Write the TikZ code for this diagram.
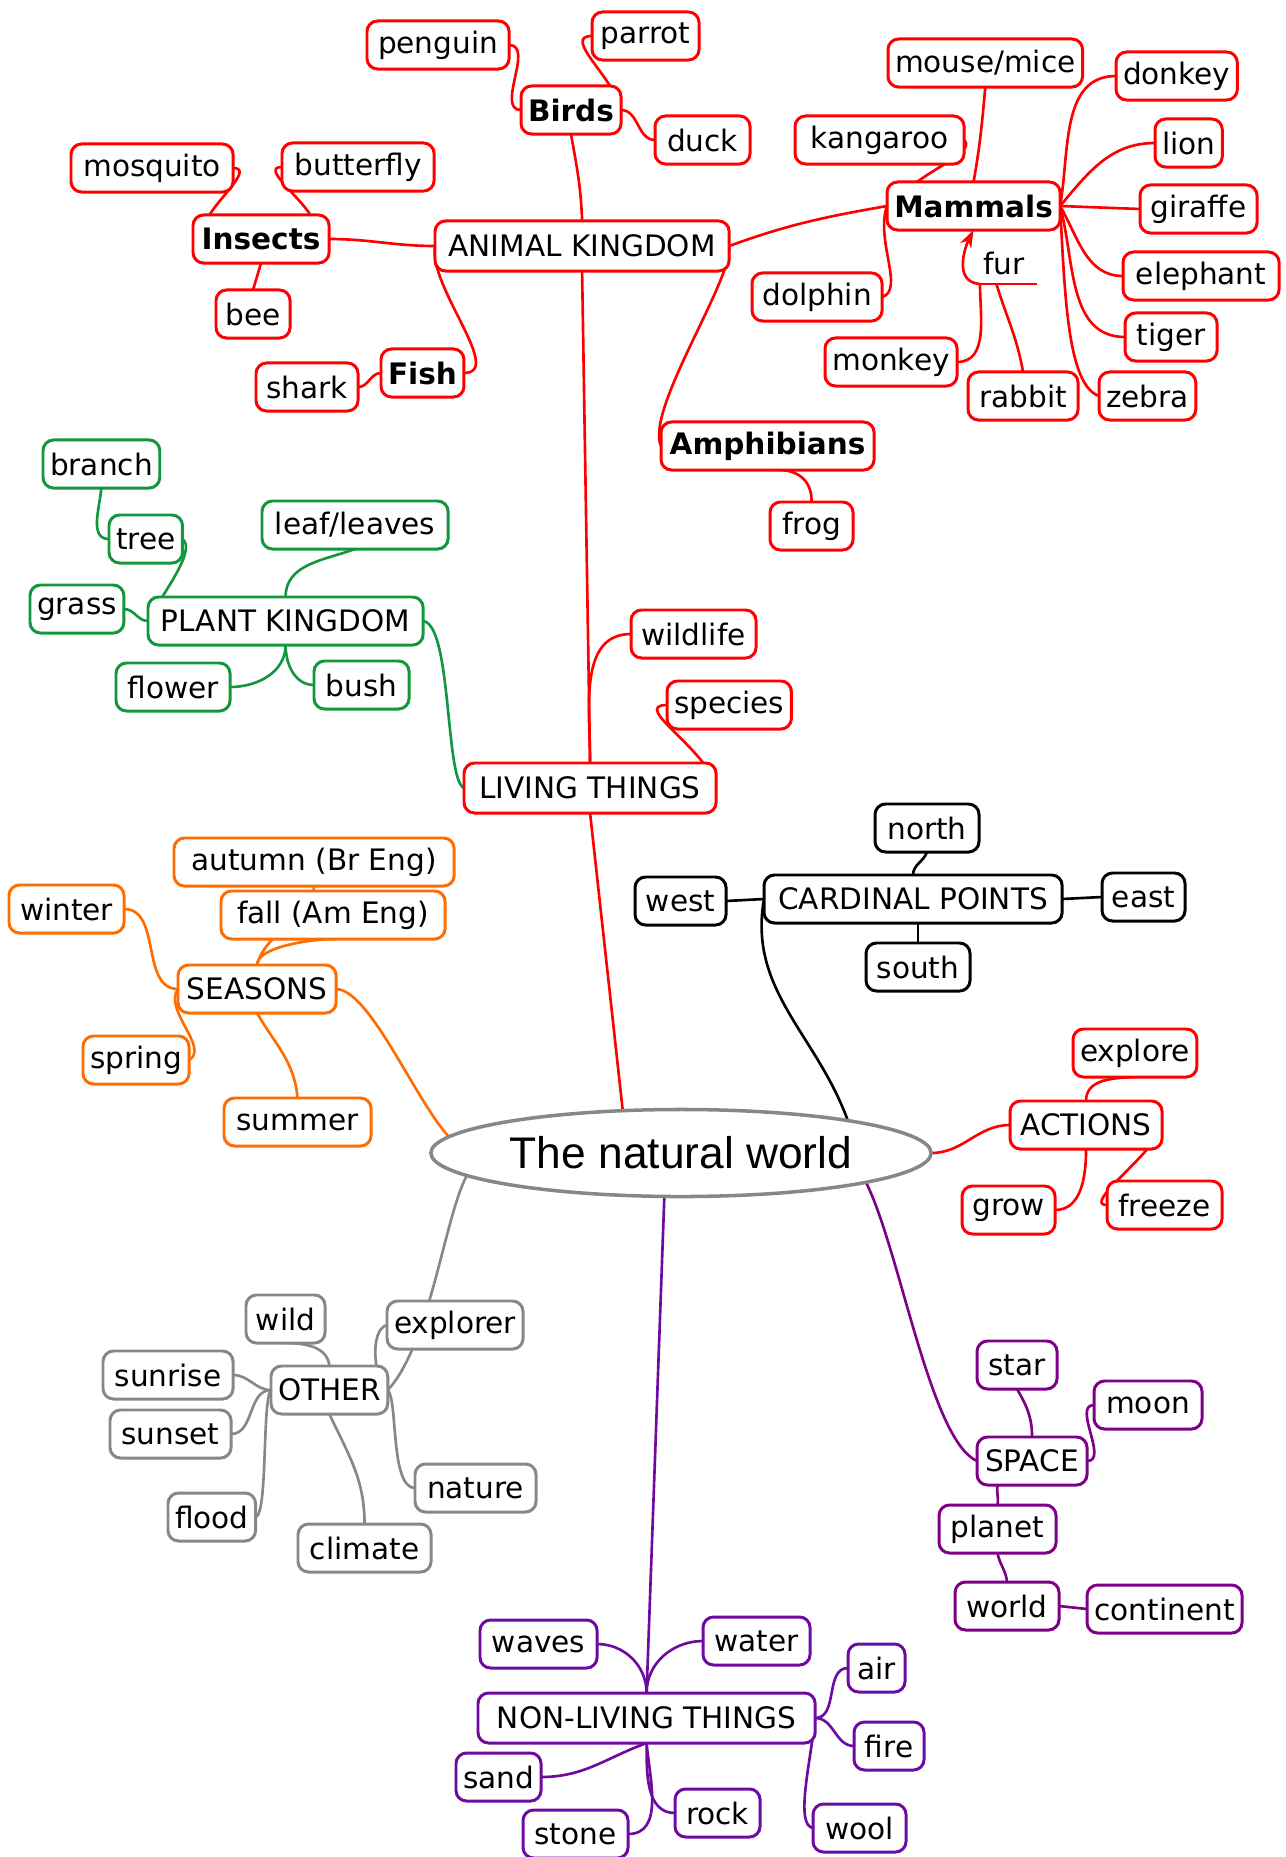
\documentclass[tikz,border=0pt]{standalone}
\usepackage{fontspec}
\setmainfont{DejaVu Sans}
\newfontfamily\rootfont{Liberation Sans}
\usetikzlibrary{arrows.meta,backgrounds,shapes.geometric}

\definecolor{animalred}{RGB}{255,0,0}
\definecolor{plantgreen}{RGB}{18,150,62}
\definecolor{seasonorange}{RGB}{255,108,0}
\definecolor{othergray}{RGB}{135,135,135}
\definecolor{spacepurple}{RGB}{125,0,135}
\definecolor{thingpurple}{RGB}{110,10,160}

\begin{document}
\begin{tikzpicture}[x=0.01cm, y=0.01cm, font=\fontsize{8.4}{10}\selectfont,
    leaf/.style={draw, fill=white, rounded corners=3pt, line width=0.85pt, anchor=west,
      minimum height=0.48cm, inner xsep=2pt, inner ysep=1pt, outer sep=0pt},
    heavy/.style={font=\fontsize{8.4}{10}\selectfont\bfseries},
    animal/.style={leaf, draw=animalred},
    plant/.style={leaf, draw=plantgreen},
    season/.style={leaf, draw=seasonorange},
    compass/.style={leaf, draw=black},
    action/.style={leaf, draw=animalred},
    misc/.style={leaf, draw=othergray},
    cosmos/.style={leaf, draw=spacepurple},
    thing/.style={leaf, draw=thingpurple},
    link/.style={line width=0.75pt},
    >={Stealth[length=5pt,width=3.5pt]}]

  \useasboundingbox (0,0) rectangle (1286,-1857);

  % centre
  \node[ellipse, draw=othergray, line width=1pt, fill=white, minimum width=5cm, minimum height=0.87cm,
    inner sep=0pt, outer sep=0pt, font=\rootfont\fontsize{12.6}{15}\selectfont] (natural) at (681,-1153) {The natural world};

  % animal kingdom
  \node[animal, minimum width=2.94cm, minimum height=0.5cm] (animals) at (435,-246) {ANIMAL KINGDOM};
  \node[animal, heavy, minimum width=0.97cm] (birds) at (521,-110) {Birds};
  \node[animal, minimum width=1.42cm] (penguin) at (367,-45) {penguin};
  \node[animal, minimum width=1.07cm] (parrot) at (592,-36) {parrot};
  \node[animal, minimum width=0.95cm] (duck) at (655,-140) {duck};
  \node[animal, heavy, minimum width=1.36cm] (insects) at (193,-239) {Insects};
  \node[animal, minimum width=1.62cm] (mosquito) at (71,-168) {mosquito};
  \node[animal, minimum width=1.52cm] (butterfly) at (282,-167) {butterfly};
  \node[animal, minimum width=0.74cm] (bee) at (216,-314) {bee};
  \node[animal, heavy, minimum width=0.80cm] (fish) at (381,-373) {Fish};
  \node[animal, minimum width=1.02cm] (shark) at (256,-387) {shark};
  \node[animal, heavy, minimum width=1.73cm] (mammals) at (887,-206) {Mammals};
  \node[animal, minimum width=1.94cm] (mice) at (888,-63) {mouse/mice};
  \node[animal, minimum width=1.69cm] (kangaroo) at (795,-140) {kangaroo};
  \node[animal, minimum width=1.30cm] (dolphin) at (752,-297) {dolphin};
  \node[animal, minimum width=1.32cm] (monkey) at (825,-362) {monkey};
  \node[animal, minimum width=1.10cm] (rabbit) at (968,-396) {rabbit};
  \node[animal, minimum width=1.20cm] (donkey) at (1116,-76) {donkey};
  \node[animal, minimum width=0.63cm] (lion) at (1155,-143) {lion};
  \node[animal, minimum width=1.17cm] (giraffe) at (1140,-209) {giraffe};
  \node[animal, minimum width=1.56cm] (elephant) at (1123,-276) {elephant};
  \node[animal, minimum width=0.92cm] (tiger) at (1125,-337) {tiger};
  \node[animal, minimum width=0.96cm] (zebra) at (1099,-396) {zebra};
  \node[anchor=south west, text width=0.5cm, inner xsep=1pt, inner ysep=1pt, minimum height=0.42cm,
    outer sep=0pt] (fur) at (980,-284) {fur};
  \node[animal, heavy, minimum width=2.13cm] (amphibians) at (661,-446) {Amphibians};
  \node[animal, minimum width=0.83cm] (frog) at (770,-526) {frog};

  % living things
  \node[animal, minimum width=2.52cm, minimum height=0.5cm] (living) at (464,-788) {LIVING THINGS};
  \node[animal, minimum width=1.25cm] (wildlife) at (631,-634) {wildlife};
  \node[animal, minimum width=1.19cm] (species) at (667,-705) {species};

  % plant kingdom
  \node[plant, minimum width=2.75cm] (plants) at (148,-621) {PLANT KINGDOM};
  \node[plant, minimum width=1.13cm] (branch) at (43,-464) {branch};
  \node[plant, minimum width=0.72cm] (tree) at (109,-539) {tree};
  \node[plant, minimum width=1.86cm] (leaves) at (262,-525) {leaf/leaves};
  \node[plant, minimum width=0.92cm] (grass) at (30,-609) {grass};
  \node[plant, minimum width=1.14cm] (flower) at (116,-687) {flower};
  \node[plant, minimum width=0.95cm] (bush) at (314,-685) {bush};

  % cardinal points
  \node[compass, minimum width=2.98cm] (cardinal) at (764,-899) {CARDINAL POINTS};
  \node[compass, minimum width=1.04cm] (northpt) at (875,-828) {north};
  \node[compass, minimum width=0.91cm] (westpt) at (635,-901) {west};
  \node[compass, minimum width=0.83cm] (eastpt) at (1102,-897) {east};
  \node[compass, minimum width=1.04cm] (southpt) at (866,-967) {south};

  % seasons
  \node[season, minimum width=1.58cm] (seasons) at (178,-989) {SEASONS};
  \node[season, minimum width=2.80cm] (autumn) at (174,-862) {autumn (Br Eng)};
  \node[season, minimum width=2.24cm] (fall) at (221,-915) {fall (Am Eng)};
  \node[season, minimum width=1.15cm] (winter) at (9,-909) {winter};
  \node[season, minimum width=1.03cm] (spring) at (83,-1060) {spring};
  \node[season, minimum width=1.47cm] (summer) at (224,-1122) {summer};

  % actions
  \node[action, minimum width=1.52cm] (actions) at (1010,-1125) {ACTIONS};
  \node[action, minimum width=1.22cm] (explore) at (1073,-1053) {explore};
  \node[action, minimum width=0.93cm] (grow) at (962,-1210) {grow};
  \node[action, minimum width=1.15cm] (freeze) at (1107,-1205) {freeze};

  % other
  \node[misc, minimum width=1.15cm] (other) at (271,-1390) {OTHER};
  \node[misc, minimum width=0.79cm] (wild) at (246,-1319) {wild};
  \node[misc, minimum width=1.36cm] (explorer) at (387,-1325) {explorer};
  \node[misc, minimum width=1.30cm] (sunrise) at (103,-1375) {sunrise};
  \node[misc, minimum width=1.21cm] (sunset) at (110,-1434) {sunset};
  \node[misc, minimum width=1.21cm] (nature) at (415,-1488) {nature};
  \node[misc, minimum width=0.84cm] (flood) at (168,-1517) {flood};
  \node[misc, minimum width=1.33cm] (climate) at (298,-1548) {climate};

  % space
  \node[cosmos, minimum width=1.10cm] (space) at (977,-1461) {SPACE};
  \node[cosmos, minimum width=0.80cm] (star) at (977,-1365) {star};
  \node[cosmos, minimum width=1.08cm] (moon) at (1094,-1405) {moon};
  \node[cosmos, minimum width=1.17cm] (planet) at (939,-1529) {planet};
  \node[cosmos, minimum width=1.04cm] (world) at (955,-1606) {world};
  \node[cosmos, minimum width=1.55cm] (continent) at (1087,-1609) {continent};

  % non-living things
  \node[thing, minimum width=3.37cm, minimum height=0.5cm] (nonliving) at (478,-1718) {NON-LIVING THINGS};
  \node[thing, minimum width=1.17cm] (waves) at (480,-1644) {waves};
  \node[thing, minimum width=1.07cm] (water) at (703,-1641) {water};
  \node[thing, minimum width=0.57cm] (air) at (848,-1668) {air};
  \node[thing, minimum width=0.70cm] (fire) at (854,-1746) {fire};
  \node[thing, minimum width=0.82cm] (sand) at (456,-1777) {sand};
  \node[thing, minimum width=0.85cm] (rock) at (675,-1813) {rock};
  \node[thing, minimum width=1.05cm] (stone) at (523,-1834) {stone};
  \node[thing, minimum width=0.93cm] (wool) at (813,-1828) {wool};

  \draw[link, animalred] (fur.south west) -- (fur.south east);

  \begin{pgfonlayer}{background}
    \path[link, animalred]
      (birds.south) edge[out=-80, in=92] (animals.north)
      (penguin.east) edge[out=0, in=180] (birds.west)
      (birds.east) edge[out=100, in=180] (parrot.west)
      (birds.east) edge[out=0, in=180] (duck.west)
      (animals.west) edge[out=180, in=0] (insects.east)
      (mosquito.east) edge[out=0, in=60] (insects.155)
      (butterfly.west) edge[out=180, in=120] (insects.26)
      (insects.south) edge (bee.north)
      (animals.west) edge[out=-100, in=0, looseness=0.8] (fish.east)
      (shark.east) edge[out=0, in=180] (fish.west)
      (animals.east) edge[out=20, in=190] (mammals.west)
      (mice.south) edge[out=-95, in=80] (mammals.north)
      (mammals.east) edge[out=80, in=180] (donkey.west)
      (mammals.east) edge[out=50, in=180] (lion.west)
      (mammals.east) edge (giraffe.west)
      (mammals.east) edge[out=-60, in=180] (elephant.west)
      (mammals.east) edge[out=-75, in=180] (tiger.west)
      (monkey.east) edge[out=0, in=-90] (fur.south west)
      (rabbit.north) edge[out=100, in=-73] (fur.240)
      (living.north) edge (animals.south)
      (living.north) edge[out=90, in=180] (wildlife.west)
      (living.east) edge[out=100, in=180] (species.west)
      (living.south) edge (natural.144)
      (natural.east) edge[out=0, in=180] (actions.west)
      (actions.south) edge[out=-90, in=0] (grow.east)
      (actions.east) edge[out=-100, in=180, looseness=0.7] (freeze.west);
    \draw[link, animalred] (mammals.east) .. controls (1065,-300) and (1068,-385) .. (zebra.west);
    \draw[link, animalred] (animals.east) .. controls (733,-280) and (645,-410) .. (amphibians.west);
    \draw[link, animalred] (kangaroo.east) .. controls (975,-150) and (940,-165) .. (mammals.157);
    \draw[link, animalred] (mammals.west) .. controls (875,-240) and (905,-290) .. (dolphin.east);
    \draw[link, animalred, ->] (fur.south west) .. controls (952,-282) and (966,-245) .. (mammals.south);
    \draw[link, animalred] (amphibians.south) .. controls (800,-467) and (812,-482) .. (frog.north);
    \draw[link, animalred] (actions.north) .. controls (1086,-1080) and (1110,-1078) .. (explore.south);

    \path[link, plantgreen]
      (branch.south) edge[out=-95, in=180] (tree.west)
      (grass.east) edge[out=0, in=180] (plants.west)
      (leaves.south) edge[out=200, in=90] (plants.north)
      (flower.east) edge[out=0, in=-90] (plants.south)
      (bush.west) edge[out=180, in=-90] (plants.south);
    \draw[link, plantgreen] (tree.east) .. controls (198,-550) and (158,-600) .. (plants.west);
    \draw[link, plantgreen] (plants.east) .. controls (452,-625) and (445,-780) .. (living.west);

    \path[link, black]
      (northpt.south) edge[out=-110, in=90] (cardinal.north)
      (southpt.north |- cardinal.south) edge (southpt.north)
      (westpt.east) edge (cardinal.west)
      (cardinal.east) edge (eastpt.west)
      (cardinal.west) edge[out=-100, in=110] (natural.11);

    \path[link, seasonorange]
      (winter.east) edge[out=0, in=180] (seasons.west)
      (seasons.north) edge[out=75, in=-95] (autumn.south)
      (seasons.north) edge[out=90, in=180, looseness=0.6] (fall.south)
      (seasons.south) edge[out=-60, in=95] (summer.north);
    \draw[link, seasonorange] (seasons.west) .. controls (163,-1010) and (210,-1048) .. (spring.east);
    \draw[link, seasonorange] (seasons.east) .. controls (370,-990) and (415,-1100) .. (natural.176);

    \path[link, othergray]
      (other.north) edge[out=95, in=0] (wild.south)
      (sunrise.east) edge[out=0, in=180] (other.west)
      (sunset.east) edge[out=0, in=180] (other.west)
      (other.south) edge[out=-65, in=90] (climate.north);
    \draw[link, othergray] (flood.east) .. controls (268,-1515) and (262,-1400) .. (other.west);
    \draw[link, othergray] (explorer.west) .. controls (368,-1330) and (375,-1385) .. (other.east);
    \draw[link, othergray] (other.east) .. controls (398,-1400) and (390,-1488) .. (nature.west);
    \draw[link, othergray] (natural.186) .. controls (445,-1215) and (430,-1345) .. (other.east);

    \path[link, spacepurple]
      (star.south) edge[out=-60, in=90] (space.north)
      (moon.west) edge[out=180, in=0] (space.east)
      (planet.north) edge[out=80, in=-100] (planet.north |- space.south)
      (world.north) edge[out=95, in=-80] (planet.south)
      (world.east) edge (continent.west);
    \draw[link, spacepurple] (natural.351) .. controls (900,-1250) and (930,-1440) .. (space.west);

    \path[link, thingpurple]
      (natural.249) edge (nonliving.north)
      (waves.east) edge[out=0, in=90] (nonliving.north)
      (water.west) edge[out=180, in=90] (nonliving.north)
      (air.west) edge[out=180, in=0] (nonliving.east)
      (nonliving.east) edge[out=0, in=180] (fire.west)
      (nonliving.south) edge[out=-160, in=0] (sand.east)
      (nonliving.south) edge[out=-90, in=180] (rock.west)
      (nonliving.south) edge[out=-85, in=0] (stone.east);
    \draw[link, thingpurple] (nonliving.east) .. controls (810,-1765) and (795,-1825) .. (wool.west);
  \end{pgfonlayer}
\end{tikzpicture}
\end{document}
